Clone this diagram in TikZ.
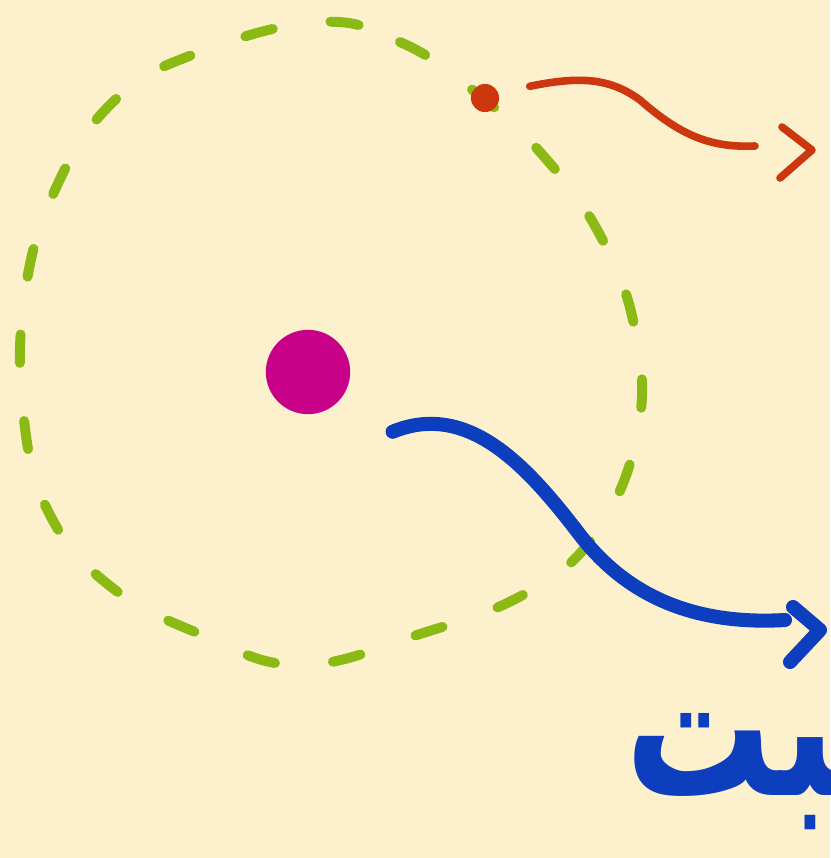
\documentclass[tikz,border=0pt]{standalone}
\usepackage{fontspec}
\usetikzlibrary{arrows.meta}
\TeXXeTstate=1
\newfontfamily\arabicfont[Script=Arabic]{DejaVu Sans}
\definecolor{paper}{RGB}{252,240,205}
\definecolor{orbitgreen}{RGB}{140,186,20}
\definecolor{spotred}{RGB}{205,55,15}
\definecolor{coremagenta}{RGB}{200,0,135}
\definecolor{pathblue}{RGB}{12,62,190}
\begin{document}
\begin{tikzpicture}[x=0.03cm,y=-0.03cm]
\tikzstyle{every node}=[inner sep=0pt]
\tikzstyle{dot}=[circle,inner sep=0pt,minimum size=#1]
\tikzstyle{stroke}=[line cap=round,line join=round]
\fill[paper] (0,0) rectangle (830,858);
\useasboundingbox (0,0) rectangle (830,858);
\draw[stroke,orbitgreen,line width=8.5pt,dash pattern=on 0.85cm off 1.75cm] plot[smooth cycle,tension=0.7] coordinates {(320,22) (400,42) (470,88) (540,152) (600,235) (635,330) (638,430) (598,530) (528,592) (420,634) (300,665) (200,634) (110,586) (50,515) (24,420) (24,300) (55,190) (115,100) (200,52)};
\node[dot=24pt,fill=spotred] (spot) at (485,98) {};
\node[dot=72pt,fill=coremagenta] (core) at (308,372) {};
\coordinate (spotend) at (755,146);
\coordinate (coreend) at (785,620);
\draw[stroke,spotred,line width=6.5pt] ([xshift=26pt,yshift=10pt]spot.east) .. controls (580,76) and (610,78) .. (640,100) .. controls (680,135) and (710,148) .. (spotend);
\draw[stroke,spotred,line width=6.5pt] (782,127) -- (812,150) -- (780,178);
\draw[stroke,pathblue,line width=12pt] ([xshift=36pt,yshift=-51pt]core.east) .. controls (470,400) and (530,470) .. (580,535) .. controls (630,600) and (700,625) .. (coreend);
\draw[stroke,pathblue,line width=12pt] (793,607) -- (820,630) -- (790,662);
\node[anchor=base west,text=pathblue] (label) at (625,795) {\scalebox{1}[1.35]{\arabicfont\bfseries\fontsize{125}{135}\selectfont\beginR مثبت\endR}};
\end{tikzpicture}
\end{document}
